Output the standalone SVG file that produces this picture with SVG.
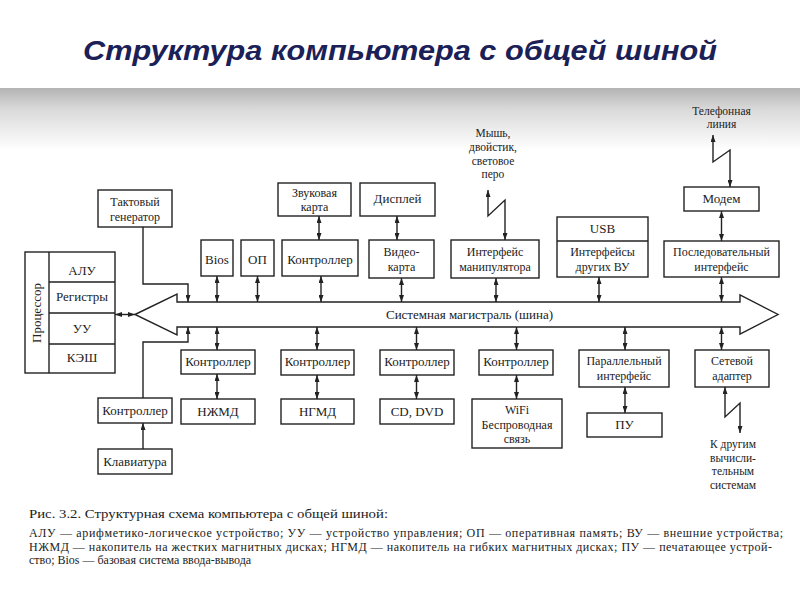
<svg xmlns="http://www.w3.org/2000/svg" width="800" height="600" viewBox="0 0 800 600">
<defs>
<linearGradient id="band" x1="0" y1="0" x2="0" y2="1">
<stop offset="0" stop-color="#b4b4b4"/>
<stop offset="0.35" stop-color="#dadada"/>
<stop offset="1" stop-color="#ffffff"/>
</linearGradient>
<marker id="ah" viewBox="0 0 7 5" refX="7" refY="2.5" markerWidth="7" markerHeight="5" markerUnits="userSpaceOnUse" orient="auto-start-reverse">
<path d="M0,0 L7,2.5 L0,5 Z" fill="#222"/>
</marker>
<style>
.box{fill:#fff;stroke:#222;stroke-width:1.4}
.ln{fill:none;stroke:#222;stroke-width:1.4}
.t{font-family:"Liberation Serif","DejaVu Serif",serif;font-size:13px;fill:#222;text-anchor:middle}
.m{font-size:12px}
.s{font-size:11.5px}
.c{fill:none;stroke:#222;stroke-width:1.4}
.b{marker-start:url(#ah);marker-end:url(#ah)}
.e{marker-end:url(#ah)}
.cap{font-family:"Liberation Serif","DejaVu Serif",serif;fill:#222}
</style>
</defs>
<rect width="800" height="600" fill="#fff"/>
<rect x="0" y="88" width="800" height="62" fill="url(#band)"/>
<text x="400" y="60" font-family="Liberation Sans, Arial, sans-serif" font-weight="bold" font-style="italic" font-size="27" fill="#1b2157" text-anchor="middle" textLength="634" lengthAdjust="spacingAndGlyphs">Структура компьютера с общей шиной</text>

<g id="bus">
<path class="box" d="M135,314.5 L177,294 V302 H740 V295 L778,314.5 L740,334 V327 H177 V335 Z"/>
<text class="t" x="469.5" y="318.5" textLength="167">Системная магистраль (шина)</text>
</g>

<g id="processor">
<rect class="box" x="25" y="252" width="90" height="121"/>
<path class="ln" d="M49,252 V373 M49,282 H115 M49,313 H115 M49,344 H115"/>
<text class="t" x="82" y="275">АЛУ</text>
<text class="t" x="82" y="301">Регистры</text>
<text class="t" x="82" y="332.5">УУ</text>
<text class="t" x="82" y="361.5">КЭШ</text>
<text class="t" x="37" y="317" transform="rotate(-90 37 313)">Процессор</text>
</g>

<g id="clock"><rect class="box" x="98" y="190" width="74" height="37"/><text class="t m" x="135" y="205.5">Тактовый</text><text class="t m" x="135" y="220.5">генератор</text></g>
<g id="bios"><rect class="box" x="201" y="240" width="32" height="36"/><text class="t" x="217" y="263.5">Bios</text></g>
<g id="op"><rect class="box" x="241" y="240" width="33" height="36"/><text class="t" x="257.5" y="263.5">ОП</text></g>
<g id="ctrl-sound"><rect class="box" x="282" y="240" width="76" height="36"/><text class="t" x="320" y="263.5">Контроллер</text></g>
<g id="sound"><rect class="box" x="278" y="183" width="73" height="33"/><text class="t m" x="314.5" y="196.5">Звуковая</text><text class="t m" x="314.5" y="210.5">карта</text></g>
<g id="display"><rect class="box" x="360" y="183" width="75" height="33"/><text class="t" x="397.5" y="202.5">Дисплей</text></g>
<g id="video"><rect class="box" x="369" y="240" width="65" height="38"/><text class="t m" x="401.5" y="256">Видео-</text><text class="t m" x="401.5" y="271">карта</text></g>
<g id="manip"><rect class="box" x="451" y="240" width="88" height="38"/><text class="t m" x="495" y="256">Интерфейс</text><text class="t m" x="495" y="271">манипулятора</text></g>
<g id="mouse-label"><text class="t s" x="493" y="137">Мышь,</text><text class="t s" x="493" y="150.5">двойстик,</text><text class="t s" x="493" y="164.5">световое</text><text class="t s" x="493" y="178">перо</text></g>
<g id="usb"><rect class="box" x="557" y="217" width="91" height="60"/><path class="ln" d="M557,241 H648"/><text class="t" x="602.5" y="232.5">USB</text><text class="t m" x="602.5" y="256">Интерфейсы</text><text class="t m" x="602.5" y="271">других ВУ</text></g>
<g id="phone-label"><text class="t s" x="721.5" y="114.5">Телефонная</text><text class="t s" x="721.5" y="127.5">линия</text></g>
<g id="modem"><rect class="box" x="684" y="187" width="75" height="24"/><text class="t" x="721.5" y="202.5">Модем</text></g>
<g id="serial"><rect class="box" x="664" y="241" width="115" height="36"/><text class="t m" x="721.5" y="256">Последовательный</text><text class="t m" x="721.5" y="271">интерфейс</text></g>

<g id="ctrl-hdd"><rect class="box" x="181" y="350" width="74" height="24"/><text class="t" x="218" y="366">Контроллер</text></g>
<g id="hdd"><rect class="box" x="181" y="399" width="74" height="25"/><text class="t" x="218" y="416">НЖМД</text></g>
<g id="ctrl-fdd"><rect class="box" x="281" y="350" width="73" height="25"/><text class="t" x="317.5" y="366">Контроллер</text></g>
<g id="fdd"><rect class="box" x="281" y="399" width="73" height="25"/><text class="t" x="317.5" y="416">НГМД</text></g>
<g id="ctrl-cd"><rect class="box" x="380" y="350" width="74" height="25"/><text class="t" x="417" y="366">Контроллер</text></g>
<g id="cd"><rect class="box" x="380" y="399" width="74" height="25"/><text class="t" x="417" y="416">CD, DVD</text></g>
<g id="ctrl-wifi"><rect class="box" x="479" y="350" width="74" height="25"/><text class="t" x="516" y="366">Контроллер</text></g>
<g id="wifi"><rect class="box" x="472" y="399" width="90" height="49"/><text class="t m" x="517" y="413.5">WiFi</text><text class="t m" x="517" y="428.5">Беспроводная</text><text class="t m" x="517" y="443">связь</text></g>
<g id="parallel"><rect class="box" x="579" y="350" width="90" height="37"/><text class="t m" x="624" y="365">Параллельный</text><text class="t m" x="624" y="380">интерфейс</text></g>
<g id="printer"><rect class="box" x="587" y="413" width="75" height="24"/><text class="t" x="624.5" y="429">ПУ</text></g>
<g id="net"><rect class="box" x="695" y="350" width="74" height="37"/><text class="t m" x="732" y="365">Сетевой</text><text class="t m" x="732" y="380">адаптер</text></g>
<g id="net-label"><text class="t s" x="733" y="448">К другим</text><text class="t s" x="733" y="461.5">вычисли-</text><text class="t s" x="733" y="475">тельным</text><text class="t s" x="733" y="488.5">системам</text></g>
<g id="ctrl-kb"><rect class="box" x="98" y="398" width="74" height="25"/><text class="t" x="135" y="415">Контроллер</text></g>
<g id="keyboard"><rect class="box" x="98" y="449" width="74" height="25"/><text class="t" x="135" y="466">Клавиатура</text></g>

<g id="connectors">
<path class="c b" d="M115,314.5 H135"/>
<path class="c e" d="M143,227 V284 H188 V302"/>
<path class="c b" d="M217,276 V302"/>
<path class="c b" d="M257.5,276 V302"/>
<path class="c b" d="M321,276 V302"/>
<path class="c b" d="M319,216 V240"/>
<path class="c b" d="M397,216 V240"/>
<path class="c b" d="M401.5,278 V302"/>
<path class="c b" d="M496,278 V302"/>
<path class="c b" d="M599,277 V302"/>
<path class="c b" d="M721.5,277 V302"/>
<path class="c b" d="M721.5,211 V241"/>
<path class="c b" d="M488,190 V216 L505,200 V240"/>
<path class="c b" d="M713,135 V162 L730,150 V187"/>
<path class="c e" d="M143,398 V342 H188 V327"/>
<path class="c e" d="M143,449 V423"/>
<path class="c b" d="M217,327 V350"/>
<path class="c b" d="M217,374 V399"/>
<path class="c b" d="M317,327 V350"/>
<path class="c b" d="M317,375 V399"/>
<path class="c b" d="M416.5,327 V350"/>
<path class="c b" d="M416.5,375 V399"/>
<path class="c b" d="M516.5,327 V350"/>
<path class="c b" d="M516.5,375 V399"/>
<path class="c b" d="M625,327 V350"/>
<path class="c b" d="M625,387 V413"/>
<path class="c b" d="M721.5,327 V350"/>
<path class="c b" d="M725,387 V417 L740,403 V433"/>
</g>

<g id="caption">
<text class="cap" x="29" y="518" font-size="13.5" textLength="359" lengthAdjust="spacingAndGlyphs">Рис. 3.2. Структурная схема компьютера с общей шиной:</text>
<text class="cap" x="29" y="537" font-size="12" textLength="754" lengthAdjust="spacing">АЛУ — арифметико-логическое устройство; УУ — устройство управления; ОП — оперативная память; ВУ — внешние устройства;</text>
<text class="cap" x="29" y="551" font-size="12" textLength="743" lengthAdjust="spacing">НЖМД — накопитель на жестких магнитных дисках; НГМД — накопитель на гибких магнитных дисках; ПУ — печатающее устрой-</text>
<text class="cap" x="29" y="564" font-size="12">ство; Bios — базовая система ввода-вывода</text>
</g>
</svg>
